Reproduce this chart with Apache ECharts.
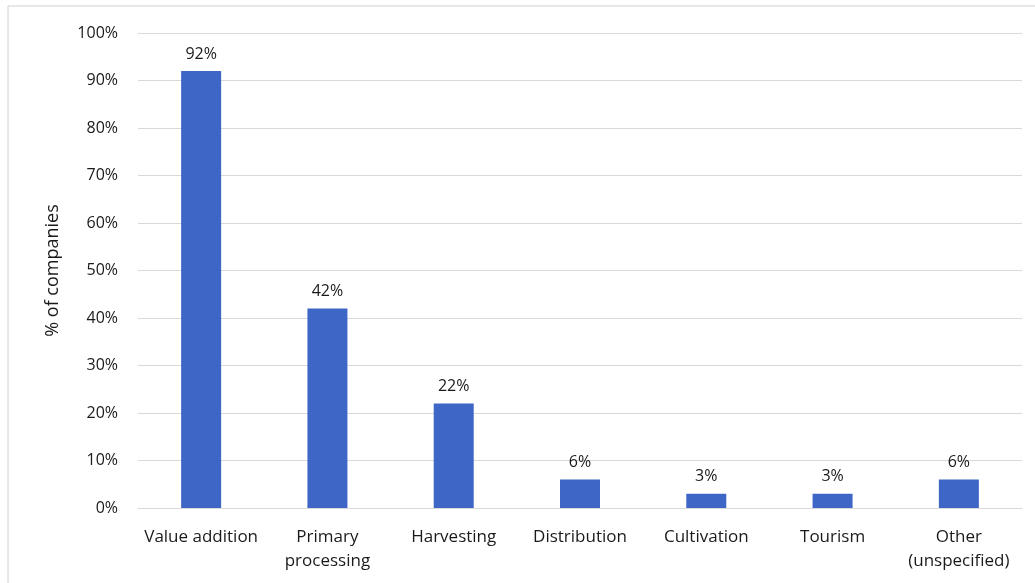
<!DOCTYPE html>
<html>
<head>
<meta charset="utf-8">
<script src="https://cdn.jsdelivr.net/npm/echarts@6/dist/echarts.min.js"></script>
<style>
  html, body { margin: 0; padding: 0; background: #fff; }
  #chart { width: 1035px; height: 583px; }
</style>
</head>
<body>
<div id="chart"></div>
<script>
// activities of companies, share in %
var categories = ['Value addition', 'Primary\nprocessing', 'Harvesting', 'Distribution', 'Cultivation', 'Tourism', 'Other\n(unspecified)'];
var shares = [92, 42, 22, 6, 3, 3, 6];

var chart = echarts.init(document.getElementById('chart'));
var font = '"Open Sans", "Noto Sans", sans-serif';

var option = {
    animation: false,
    textStyle: { fontFamily: font },
    graphic: [{
        type: 'rect',
        shape: { x: 8, y: 6, width: 1040, height: 600 },
        style: { fill: 'none', stroke: '#d0d0d0', lineWidth: 1 }
    }],
    grid: {
        left: 138,
        right: 13,
        top: 33,
        bottom: 75
    },
    xAxis: {
        type: 'category',
        data: categories,
        axisTick: { show: false },
        axisLine: { lineStyle: { color: '#d9d9d9' } },
        axisLabel: {
            color: '#1a1a1a',
            fontSize: 17,
            lineHeight: 24,
            margin: 17,
            interval: 0,
            fontFamily: font
        }
    },
    yAxis: {
        type: 'value',
        min: 0,
        max: 100,
        interval: 10,
        name: '% of companies',
        nameLocation: 'middle',
        nameGap: 76,
        nameRotate: 90,
        nameTextStyle: { color: '#1a1a1a', fontSize: 18, fontFamily: font },
        axisLabel: {
            formatter: '{value}%',
            color: '#1a1a1a',
            fontSize: 16,
            margin: 20,
            fontFamily: font
        },
        axisLine: { show: false },
        axisTick: { show: false },
        splitLine: { lineStyle: { color: '#d9d9d9' } }
    },
    series: [{
        type: 'bar',
        data: shares,
        barWidth: 40,
        itemStyle: { color: '#3e66c6' },
        label: {
            show: true,
            position: 'top',
            distance: 9,
            formatter: '{c}%',
            color: '#1a1a1a',
            fontSize: 16,
            fontFamily: font
        }
    }]
};
chart.setOption(option);
</script>
</body>
</html>
